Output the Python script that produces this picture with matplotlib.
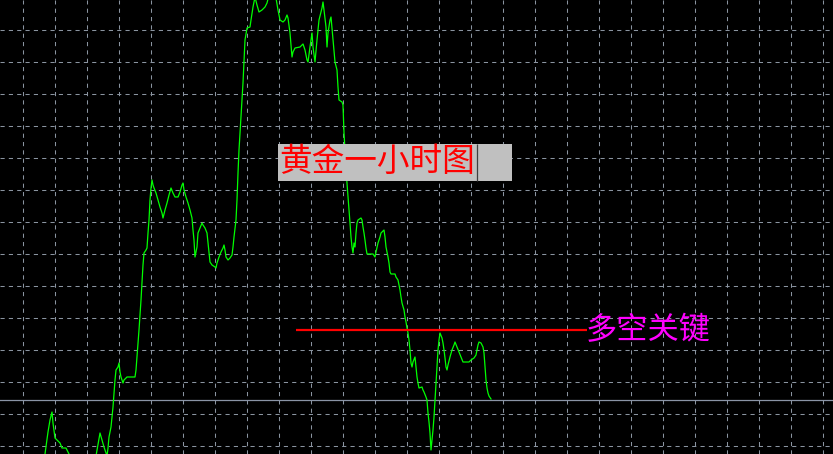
import matplotlib.pyplot as plt
from matplotlib.patches import Rectangle

plt.rcParams['font.family'] = ['Noto Sans CJK SC', 'DejaVu Sans']

# bar position and close level (chart units, 0 = bottom of the window)
bars = [45, 48, 50, 52, 53, 55, 58, 60, 62, 66, 68, 70, 83,
        96, 100, 102, 104, 107, 108, 109, 111, 112, 113, 114, 115, 116, 118, 119,
        120, 121, 122, 123, 124, 127, 135, 136, 137, 138, 139, 140, 141, 142, 143,
        144, 146, 147, 148, 149, 150, 151, 152, 153, 154, 156, 158, 160, 162, 163,
        165, 167, 169, 171, 173, 175, 178, 180, 182, 183, 184, 186, 188, 190, 192,
        193, 194, 195, 197, 198, 200, 202, 203, 205, 207, 208, 209, 210, 212, 215,
        216, 217, 219, 221, 223, 224, 225, 226, 228, 230, 232, 233, 234, 236, 237,
        238, 239, 240, 241, 242, 243, 244, 245, 247, 250, 251, 253, 255, 257, 259,
        262, 265, 267, 269, 273, 276, 278, 280, 283, 285, 287, 288, 290, 292, 293,
        295, 300, 303, 305, 307, 308, 310, 312, 313, 315, 317, 319, 322, 323, 324,
        326, 327, 328, 330, 331, 333, 335, 337, 338, 339, 342, 343, 344, 345, 346,
        347, 348, 349, 350, 351, 352, 353, 354, 355, 356, 357, 358, 361, 362, 363,
        364, 365, 366, 367, 373, 375, 376, 378, 380, 381, 384, 385, 386, 388, 389,
        390, 391, 395, 396, 398, 400, 401, 402, 404, 405, 406, 407, 408, 409, 410,
        411, 412, 413, 415, 416, 417, 418, 419, 422, 423, 424, 426, 427, 428, 429,
        430, 431, 432, 433, 434, 435, 436, 437, 438, 439, 440, 442, 443, 444, 445,
        446, 447, 448, 450, 452, 454, 455, 457, 459, 461, 463, 469, 471, 474, 476,
        477, 478, 479, 481, 483, 484, 485, 486, 487, 488, 489, 491]
price = [0, 22, 34, 42, 31, 16, 13, 11, 6, 6, 2, -2, -16,
         -2, 21, 14, 7, -2, 6, 17, 27, 37, 47, 61, 74, 84, 87, 91,
         82, 77, 74, 71, 74, 77, 77, 84, 97, 111, 124, 139, 154, 171, 189,
         201, 204, 206, 221, 234, 254, 266, 274, 269, 266, 261, 254, 247, 241, 236,
         244, 251, 259, 266, 261, 257, 257, 262, 269, 271, 264, 257, 251, 244, 236,
         224, 214, 197, 207, 221, 226, 231, 229, 226, 221, 211, 201, 192, 189, 187,
         186, 191, 197, 202, 206, 209, 204, 197, 194, 196, 199, 207, 217, 234, 254,
         281, 304, 321, 337, 354, 371, 392, 414, 426, 427, 434, 447, 457, 449, 442,
         444, 447, 451, 459, 462, 456, 444, 434, 432, 434, 439, 436, 421, 397, 402,
         406, 407, 410, 404, 394, 392, 407, 421, 407, 392, 414, 434, 446, 452, 444,
         427, 407, 421, 434, 437, 414, 392, 384, 367, 354, 352, 349, 321, 304, 284,
         271, 257, 244, 231, 217, 207, 201, 211, 207, 221, 231, 234, 236, 234, 227,
         221, 214, 206, 200, 200, 197, 202, 211, 217, 221, 224, 217, 207, 197, 191,
         182, 180, 180, 177, 174, 164, 157, 151, 144, 137, 132, 126, 121, 114, 104,
         91, 87, 92, 97, 87, 77, 71, 66, 67, 64, 62, 57, 54, 41, 32,
         21, 4, 14, 24, 37, 54, 71, 87, 104, 114, 121, 116, 111, 104, 96,
         87, 84, 89, 97, 104, 109, 112, 107, 102, 97, 92, 92, 94, 96, 99,
         104, 109, 112, 111, 107, 101, 87, 74, 66, 61, 58, 55]

key_level = 124       # 多空关键
key_start, key_end = 296, 587
bid_level = 54        # current price line
title_text = '黄金一小时图'
key_text = '多空关键'

fig = plt.figure(figsize=(8.33, 4.54), dpi=100)
fig.patch.set_facecolor('black')
ax = fig.add_axes([0, 0, 1, 1])
ax.set_facecolor('black')
ax.set_xlim(0, 833)
ax.set_ylim(0, 454)

# grid
ax.set_xticks(range(23, 833, 32))
ax.set_yticks(range(8, 454, 32))
ax.grid(True, color='#8a94a0', linestyle=(0, (4, 4)), linewidth=0.75)
ax.tick_params(left=False, bottom=False, labelleft=False, labelbottom=False)
for s in ax.spines.values():
    s.set_visible(False)

ax.axhline(bid_level, color='#8a94a6', linewidth=0.9, zorder=2)
ax.plot(bars, price, color='#00ff00', linewidth=0.9, zorder=3)
ax.hlines(key_level, key_start, key_end, color='#ff0000', linewidth=1.6, zorder=4)
ax.text(key_end - 1, key_level, key_text, color='#ff00ff', fontsize=22.5,
        va='center', ha='left', zorder=5)

# label box
ax.add_patch(Rectangle((278, 273), 234, 37, facecolor='#c0c0c0', edgecolor='none', zorder=6))
ax.vlines(477, 273, 310, color='#404040', linewidth=0.9, zorder=7)
ax.text(279, 292, title_text, color='#ff0000', fontsize=23.5, va='center', ha='left', zorder=8)

fig.savefig('out.png', dpi=100, facecolor='black')
